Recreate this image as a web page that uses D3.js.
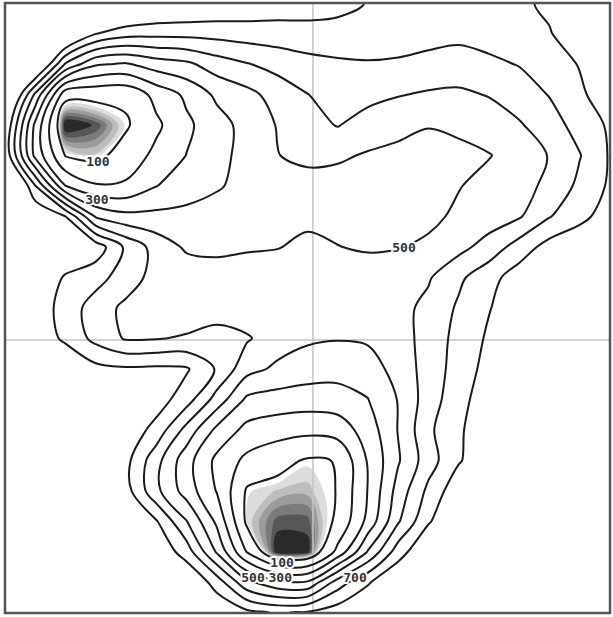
<!DOCTYPE html>
<html>
<head>
<meta charset="utf-8">
<script src="https://cdn.jsdelivr.net/npm/d3@7"></script>
<style>
  html, body { margin: 0; padding: 0; background: #fff; }
  svg { display: block; }
</style>
</head>
<body>
<div id="map"></div>
<script>
// field values, one row every ~30px from top to bottom
const field = [
  [1100, 1080, 1040, 1000, 1000, 940, 918, 895, 877, 860, 857, 835, 795, 775, 770, 760, 770, 785, 815, 850, 880],
  [1100, 1050, 990, 805, 740, 730, 731, 737, 748, 754, 757, 760, 770, 755, 745, 730, 740, 760, 795, 850, 880],
  [1150, 1000, 590, 415, 390, 450, 480, 550, 595, 635, 670, 685, 690, 685, 663, 650, 680, 705, 760, 805, 860],
  [1050, 580, 130, 125, 120, 232, 320, 420, 470, 540, 598, 640, 630, 605, 590, 585, 605, 650, 705, 785, 850],
  [900, 375, 0, 25, 88, 180, 280, 360, 435, 505, 565, 605, 557, 535, 505, 520, 553, 590, 655, 740, 815],
  [880, 370, 95, 75, 141, 225, 302, 365, 437, 497, 525, 515, 490, 470, 460, 475, 495, 545, 605, 695, 810],
  [1100, 705, 302, 210, 215, 298, 346, 390, 430, 450, 460, 460, 455, 450, 455, 495, 535, 570, 620, 725, 815],
  [1000, 900, 802, 490, 430, 427, 433, 443, 460, 470, 485, 475, 465, 460, 475, 520, 550, 590, 695, 770, 850],
  [950, 950, 900, 860, 680, 560, 485, 475, 490, 497, 515, 502, 490, 495, 520, 570, 640, 745, 840, 880, 900],
  [950, 900, 787, 735, 655, 560, 560, 550, 545, 540, 540, 540, 545, 565, 590, 680, 765, 850, 880, 900, 920],
  [950, 870, 755, 655, 575, 550, 545, 540, 545, 535, 530, 535, 545, 570, 625, 715, 795, 860, 900, 920, 940],
  [950, 870, 780, 670, 590, 595, 610, 650, 610, 550, 515, 505, 515, 560, 635, 735, 815, 880, 900, 920, 940],
  [950, 930, 900, 830, 815, 820, 812, 690, 535, 480, 450, 440, 450, 540, 640, 745, 835, 880, 900, 920, 940],
  [950, 950, 930, 900, 880, 850, 745, 560, 380, 360, 350, 355, 398, 505, 650, 765, 860, 900, 920, 940, 950],
  [950, 950, 940, 920, 870, 765, 565, 375, 270, 240, 225, 245, 345, 505, 680, 785, 870, 910, 930, 950, 950],
  [950, 950, 950, 940, 830, 635, 440, 275, 175, 130, 90, 103, 310, 490, 655, 790, 880, 920, 940, 950, 950],
  [950, 950, 950, 950, 840, 625, 455, 295, 88, 70, 65, 103, 305, 540, 725, 870, 920, 950, 950, 950, 950],
  [950, 950, 950, 950, 950, 810, 605, 380, 80, 30, 30, 115, 330, 590, 790, 900, 950, 950, 950, 950, 950],
  [950, 950, 950, 950, 950, 880, 755, 490, 195, 6, 12, 230, 510, 755, 900, 950, 950, 950, 950, 950, 950],
  [950, 950, 950, 950, 950, 950, 900, 760, 525, 430, 415, 650, 790, 900, 950, 950, 950, 950, 950, 950, 950],
  [1000, 1000, 1000, 1000, 950, 950, 920, 880, 830, 790, 815, 860, 900, 950, 950, 950, 950, 950, 950, 950, 950]
];

const lineLevels = [100, 200, 300, 400, 500, 600, 700, 800];
const shadeLevels = [85, 72, 60, 48, 36, 22]; // grey fill below these values
const shadeColors = ["#dcdcdc", "#bdbdbd", "#9c9c9c", "#7b7b7b", "#575757", "#2a2a2a"];

const labelText = ["100", "300", "500", "100", "500", "300", "700"];
const labelCol = [3.07, 3.04, 13.19, 9.16, 8.2, 9.1, 11.57];
const labelRow = [5.21, 6.43, 8.0, 18.33, 18.82, 18.82, 18.82];

const crossCol = 10.18, crossRow = 11.05;

const width = 613,
      height = 617,
      margin = ({ top: 3, right: 3, bottom: 4, left: 5 });

const nx = field[0].length,
      ny = field.length;

let svg = d3.select("#map")
    .append("svg")
    .attr("width", width)
    .attr("height", height);

let x = d3.scaleLinear()
    .domain([0, nx - 1])
    .range([margin.left, width - margin.right]);

let y = d3.scaleLinear()
    .domain([0, ny - 1])
    .range([margin.top, height - margin.bottom]);

// d3.contours puts value k at k + 0.5
const toPx = p => [x(p[0] - 0.5), y(p[1] - 0.5)];

svg.append("clipPath")
    .attr("id", "plot")
  .append("rect")
    .attr("x", x(0)).attr("y", y(0))
    .attr("width", x(nx - 1) - x(0))
    .attr("height", y(ny - 1) - y(0));

let plot = svg.append("g").attr("clip-path", "url(#plot)");

plot.append("rect")
    .attr("x", x(0)).attr("y", y(0))
    .attr("width", x(nx - 1) - x(0))
    .attr("height", y(ny - 1) - y(0))
    .attr("fill", "#fff");

const values = field.flat();

// shaded cores: contour the negated field so we get the low areas
const closedCurve = d3.line().curve(d3.curveCatmullRomClosed.alpha(0.5));
const shades = d3.contours()
    .size([nx, ny])
    .thresholds(shadeLevels.map(v => -v))(values.map(v => -v));

plot.append("g")
  .selectAll("path")
  .data(shades)
  .join("path")
    .attr("fill", (d, i) => shadeColors[i])
    .attr("d", d => d.coordinates
        .map(poly => poly.map(ring => closedCurve(ring.slice(0, -1).map(toPx))).join(""))
        .join(""));

// crosshair
plot.append("line")
    .attr("x1", x(crossCol)).attr("x2", x(crossCol))
    .attr("y1", y(0)).attr("y2", y(ny - 1))
    .attr("stroke", "#c4c4c4").attr("stroke-width", 1.5);
plot.append("line")
    .attr("x1", x(0)).attr("x2", x(nx - 1))
    .attr("y1", y(crossRow)).attr("y2", y(crossRow))
    .attr("stroke", "#c4c4c4").attr("stroke-width", 1.5);

// contour lines, leaving out the parts that run along the grid edge
const onEdge = p => p[0] <= 0 || p[0] >= nx || p[1] <= 0 || p[1] >= ny;

function ringRuns(ring) {
    const pts = ring.slice(0, -1);
    const n = pts.length;
    const start = pts.findIndex(onEdge);
    if (start < 0) return [{ closed: true, pts }];
    const rot = pts.slice(start).concat(pts.slice(0, start));
    const runs = [];
    let cur = null;
    for (let i = 0; i <= n; i++) {
        const p = rot[i % n];
        if (onEdge(p)) {
            if (cur) {
                cur.push(p);
                if (cur.length > 2) runs.push({ closed: false, pts: cur });
            }
            cur = [p];
        } else {
            cur.push(p);
        }
    }
    return runs;
}

const openCurve = d3.line().curve(d3.curveCatmullRom.alpha(0.5));
const contours = d3.contours().size([nx, ny]).thresholds(lineLevels)(values);

plot.append("g")
    .attr("fill", "none")
    .attr("stroke", "#1a1a1a")
    .attr("stroke-width", 2)
    .attr("stroke-linejoin", "round")
  .selectAll("path")
  .data(contours)
  .join("path")
    .attr("d", d => d.coordinates.flat()
        .flatMap(ringRuns)
        .map(r => r.closed ? closedCurve(r.pts.map(toPx)) : openCurve(r.pts.map(toPx)))
        .join(""));

// labels with a white knockout
plot.append("g")
  .selectAll("text")
  .data(labelText)
  .join("text")
    .attr("x", (d, i) => x(labelCol[i]))
    .attr("y", (d, i) => y(labelRow[i]))
    .attr("text-anchor", "middle")
    .attr("dominant-baseline", "central")
    .attr("font-family", "DejaVu Sans Mono, monospace")
    .attr("font-weight", "bold")
    .attr("font-size", 13)
    .attr("fill", "#333")
    .attr("stroke", "#fff")
    .attr("stroke-width", 4)
    .attr("paint-order", "stroke")
    .text(d => d);

// frame
svg.append("rect")
    .attr("x", x(0)).attr("y", y(0))
    .attr("width", x(nx - 1) - x(0))
    .attr("height", y(ny - 1) - y(0))
    .attr("fill", "none")
    .attr("stroke", "#555")
    .attr("stroke-width", 2.5);
</script>
</body>
</html>
